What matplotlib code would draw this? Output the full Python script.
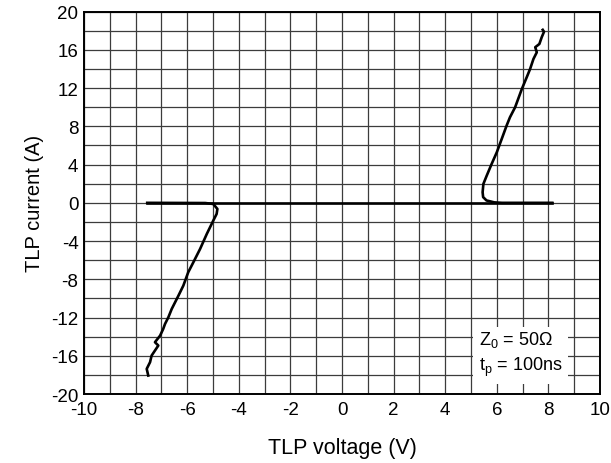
import numpy as np
import matplotlib.pyplot as plt

plt.rcParams['font.family'] = ['Liberation Sans', 'DejaVu Sans']
plt.rcParams['axes.unicode_minus'] = False

# leakage / low current sweep along 0 A
base_v = [-7.55, 8.15]
base_i = [0.0, 0.0]

# positive branch (snapback at ~5.5 V)
pos_v = [8.15, 6.2, 5.9, 5.6, 5.47, 5.45, 5.48, 5.61, 5.80, 6.00, 6.19, 6.38, 6.51, 6.71,
         6.97, 7.16, 7.29, 7.42, 7.55, 7.49, 7.65, 7.74, 7.83, 7.78]
pos_i = [0.0, 0.0, 0.05, 0.25, 0.6, 1.11, 1.98, 2.85, 4.07, 5.29, 6.68, 8.08, 8.95, 10.0,
         11.91, 13.14, 14.0, 15.05, 15.75, 16.28, 16.62, 17.32, 17.9, 18.1]

# negative branch
neg_v = [-7.55, -5.3, -4.99, -4.83, -4.86, -4.99, -5.24, -5.50, -5.76, -5.96, -6.15, -6.34,
         -6.60, -6.73, -6.86, -6.93, -7.05, -7.25, -7.12, -7.38, -7.44, -7.57, -7.51]
neg_i = [0.0, -0.02, -0.12, -0.64, -1.16, -1.86, -3.25, -4.82, -6.21, -7.26, -8.66, -9.71,
         -11.1, -11.97, -12.67, -13.19, -13.89, -14.58, -14.93, -15.98, -16.67, -17.37, -18.07]

fig = plt.figure(figsize=(6.11, 4.64), dpi=100)
ax = fig.add_axes([0.1375, 0.1487, 0.8445, 0.824])

ax.plot(base_v, base_i, color='black', lw=1.9, zorder=3)
ax.plot(pos_v, pos_i, color='black', lw=1.9, zorder=3)
ax.plot(neg_v, neg_i, color='black', lw=1.9, zorder=3)

ax.set_xlim(-10, 10)
ax.set_ylim(-20, 20)
ax.set_xticks(np.arange(-10, 11, 2))
ax.set_yticks(np.arange(-20, 21, 4))
ax.set_xticks(np.arange(-10, 11, 1), minor=True)
ax.set_yticks(np.arange(-20, 21, 2), minor=True)
ax.grid(True, which='both', color='#3c3c3c', lw=0.9)
ax.set_axisbelow(True)
ax.tick_params(which='both', length=0, labelsize=13.5)
ax.tick_params(axis='x', pad=5)
ax.tick_params(axis='y', pad=4)
for s in ax.spines.values():
    s.set_linewidth(1.4)

ax.set_xlabel('TLP voltage (V)', fontsize=15.5, labelpad=14)
ax.set_ylabel('TLP current (A)', fontsize=14.5, labelpad=5)

ax.text(5.3, -15.8, 'Z$_\\mathregular{0}$ = 50\u03a9\nt$_\\mathregular{p}$ = 100ns',
        fontsize=13, va='center', ha='left', linespacing=1.4, zorder=4,
        bbox=dict(facecolor='white', edgecolor='none', pad=4))

fig.savefig('out.png', dpi=100)
